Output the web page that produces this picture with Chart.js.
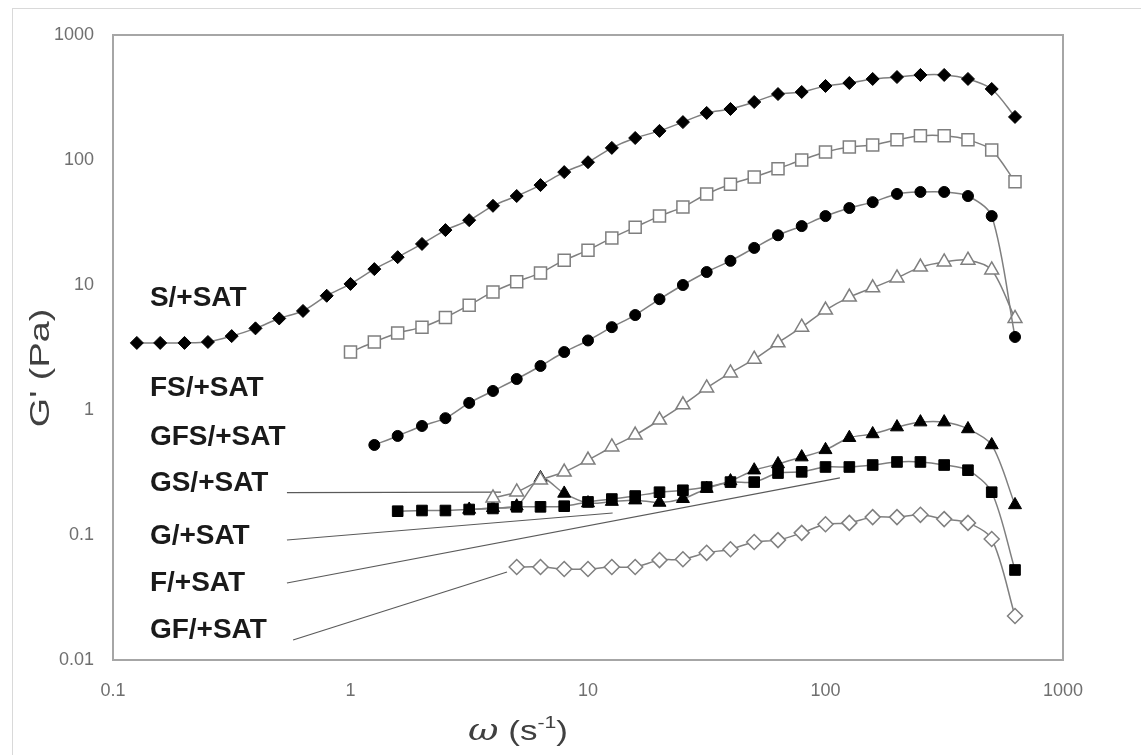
<!DOCTYPE html>
<html>
<head>
<meta charset="utf-8">
<script src="https://cdn.jsdelivr.net/npm/chart.js@4.4.1/dist/chart.umd.min.js"></script>
<style>
  html, body { margin: 0; padding: 0; background: #fff; }
</style>
</head>
<body>
<canvas id="chart" width="1141" height="755"></canvas>
<script>
// angular frequency (rad/s), shared by all sweeps; each series ends at the last value
const omega = [0.126, 0.158, 0.2, 0.251, 0.316, 0.398, 0.501, 0.631, 0.794, 1,
  1.26, 1.58, 2, 2.51, 3.16, 3.98, 5.01, 6.31, 7.94, 10,
  12.6, 15.8, 20, 25.1, 31.6, 39.8, 50.1, 63.1, 79.4, 100,
  126, 158, 200, 251, 316, 398, 501, 628];

// G' (Pa)
const sSat   = [3.44, 3.44, 3.44, 3.5, 3.9, 4.5, 5.4, 6.2, 8.2, 10.2,
  13.4, 16.7, 21.3, 27.5, 33, 43, 51.5, 63, 80, 96,
  125, 150, 171, 201, 238, 256, 291, 337, 350, 391,
  413, 445, 461, 479, 479, 445, 370, 221];
const fsSat  = [2.91, 3.5, 4.13, 4.6, 5.5, 6.9, 8.8, 10.6, 12.5, 15.8,
  19, 23.8, 29, 35.6, 42, 53.5, 64, 73, 85, 100,
  116, 127, 132, 145, 156, 156, 145, 120, 67];
const gfsSat = [0.525, 0.62, 0.745, 0.86, 1.14, 1.42, 1.77, 2.25, 2.91, 3.6,
  4.6, 5.75, 7.7, 10, 12.7, 15.6, 19.8, 25, 29.6, 35.6,
  41.3, 46, 53.5, 55.5, 55.5, 51.5, 35.6, 3.84];
const gsSat  = [0.198, 0.221, 0.275, 0.319, 0.398, 0.506, 0.63, 0.83, 1.1, 1.5,
  1.98, 2.55, 3.45, 4.6, 6.3, 8.0, 9.5, 11.4, 13.9, 15.3,
  15.8, 13.2, 5.4];
const gSat   = [0.16, 0.165, 0.17, 0.286, 0.215, 0.18, 0.185, 0.19, 0.182, 0.195,
  0.235, 0.27, 0.33, 0.37, 0.42, 0.48, 0.6, 0.643, 0.73, 0.8,
  0.8, 0.705, 0.525, 0.174];
const fSat   = [0.155, 0.157, 0.157, 0.16, 0.163, 0.168, 0.168, 0.17, 0.184, 0.194,
  0.205, 0.22, 0.228, 0.242, 0.265, 0.265, 0.313, 0.32, 0.35, 0.35,
  0.363, 0.384, 0.384, 0.363, 0.33, 0.22, 0.0525];
const gfSat  = [0.0555, 0.0555, 0.0535, 0.0535, 0.0555, 0.0555, 0.063, 0.064, 0.072, 0.077,
  0.088, 0.091, 0.104, 0.122, 0.125, 0.139, 0.139, 0.145, 0.134, 0.125,
  0.093, 0.0225];

const xTicks = [0.1, 1, 10, 100, 1000];
const yTicks = [0.01, 0.1, 1, 10, 100, 1000];

// series labels, drawn at (labelX, labelY) in data units
const labelNames = ['S/+SAT', 'FS/+SAT', 'GFS/+SAT', 'GS/+SAT', 'G/+SAT', 'F/+SAT', 'GF/+SAT'];
const labelX = 0.143;
const labelY = [7.87, 1.5, 0.608, 0.26, 0.098, 0.0413, 0.0174];

// leader lines from the lower labels to their curves
const leaderFrom = [[0.54, 0.218], [0.54, 0.0912], [0.54, 0.0413], [0.573, 0.01445]];
const leaderTo   = [[4.3, 0.22], [12.7, 0.15], [115, 0.286], [4.56, 0.0506]];

const toPoints = vals => {
  const xs = omega.slice(omega.length - vals.length);
  return vals.map((v, i) => ({x: xs[i], y: v}));
};

const GREY = '#7f7f7f';
const filled = (data, style, r) => ({
  data: toPoints(data), showLine: true, tension: 0.3,
  borderColor: GREY, borderWidth: 1.5,
  pointStyle: style, pointRadius: r,
  pointBackgroundColor: '#000', pointBorderColor: '#000', pointBorderWidth: 1
});
const open = (data, style, r) => ({
  data: toPoints(data), showLine: true, tension: 0.3,
  borderColor: GREY, borderWidth: 1.5,
  pointStyle: style, pointRadius: r,
  pointBackgroundColor: '#fff', pointBorderColor: GREY, pointBorderWidth: 1.5
});

const datasets = [
  filled(sSat, 'rectRot', 6.5),
  open(fsSat, 'rect', 8.5),
  filled(gfsSat, 'circle', 5.5),
  open(gsSat, 'triangle', 8),
  filled(fSat, 'rect', 7.5),
  filled(gSat, 'triangle', 7.5),
  open(gfSat, 'rectRot', 7.5)
];
leaderFrom.forEach((p, i) => {
  datasets.push({
    data: [{x: p[0], y: p[1]}, {x: leaderTo[i][0], y: leaderTo[i][1]}],
    showLine: true, tension: 0, borderColor: '#5a5a5a', borderWidth: 1.2, pointRadius: 0
  });
});

const tickFont = {family: '"Liberation Sans", Arial, sans-serif', size: 18};

const decor = {
  id: 'decor',
  beforeDraw(chart) {
    const {ctx, chartArea: a} = chart;
    ctx.save();
    ctx.fillStyle = '#fff';
    ctx.fillRect(0, 0, chart.width, chart.height);
    ctx.strokeStyle = '#d9d9d9';
    ctx.lineWidth = 1;
    ctx.strokeRect(12.5, 8.5, chart.width + 20, chart.height + 20);
    ctx.strokeStyle = '#a6a6a6';
    ctx.lineWidth = 2;
    ctx.strokeRect(a.left, a.top, a.right - a.left, a.bottom - a.top);
    ctx.restore();
  },
  afterDraw(chart) {
    const {ctx, scales: {x, y}} = chart;
    ctx.save();
    // curve labels
    ctx.font = 'bold 28px "Liberation Sans", Arial, sans-serif';
    ctx.fillStyle = '#1a1a1a';
    ctx.textBaseline = 'middle';
    ctx.textAlign = 'left';
    labelNames.forEach((n, i) => {
      ctx.fillText(n, x.getPixelForValue(labelX), y.getPixelForValue(labelY[i]));
    });

    // y axis title
    ctx.save();
    ctx.translate(41, 368);
    ctx.rotate(-Math.PI / 2);
    ctx.scale(1.35, 1);
    ctx.font = '28px "Liberation Sans", Arial, sans-serif';
    ctx.fillStyle = '#404040';
    ctx.textAlign = 'center';
    ctx.textBaseline = 'middle';
    ctx.fillText("G' (Pa)", 0, 0);
    ctx.restore();

    // x axis title: italic omega, superscript -1
    const parts = [
      {t: 'ω', f: 'italic 30px "DejaVu Serif", serif', dy: 0},
      {t: ' (s', f: '28px "Liberation Sans", Arial, sans-serif', dy: 0},
      {t: '-1', f: '17px "Liberation Sans", Arial, sans-serif', dy: -12},
      {t: ')', f: '28px "Liberation Sans", Arial, sans-serif', dy: 0}
    ];
    const sx = 1.25;
    let w = 0;
    parts.forEach(p => { ctx.font = p.f; p.w = ctx.measureText(p.t).width; w += p.w; });
    ctx.translate(518 - w * sx / 2, 740);
    ctx.scale(sx, 1);
    ctx.fillStyle = '#404040';
    ctx.textAlign = 'left';
    ctx.textBaseline = 'alphabetic';
    let xx = 0;
    parts.forEach(p => { ctx.font = p.f; ctx.fillText(p.t, xx, p.dy); xx += p.w; });
    ctx.restore();
  }
};

new Chart(document.getElementById('chart'), {
  type: 'scatter',
  data: {datasets},
  options: {
    responsive: false,
    animation: false,
    devicePixelRatio: 1,
    layout: {padding: {left: 0, right: 78, top: 35, bottom: 0}},
    plugins: {legend: {display: false}, tooltip: {enabled: false}},
    scales: {
      x: {
        type: 'logarithmic', min: 0.1, max: 1000,
        grid: {display: false, drawTicks: false},
        border: {display: false},
        afterBuildTicks: s => { s.ticks = xTicks.map(v => ({value: v})); },
        afterFit: s => { s.height = 95; },
        ticks: {autoSkip: false, maxRotation: 0, padding: 20, color: '#6f6f6f', font: tickFont,
          callback: v => String(v)}
      },
      y: {
        type: 'logarithmic', min: 0.01, max: 1000,
        grid: {display: false, drawTicks: false},
        border: {display: false},
        afterBuildTicks: s => { s.ticks = yTicks.map(v => ({value: v})); },
        afterFit: s => { s.width = 113; },
        ticks: {autoSkip: false, padding: 19, color: '#6f6f6f', font: tickFont,
          callback: v => String(v)}
      }
    }
  },
  plugins: [decor]
});
</script>
</body>
</html>
